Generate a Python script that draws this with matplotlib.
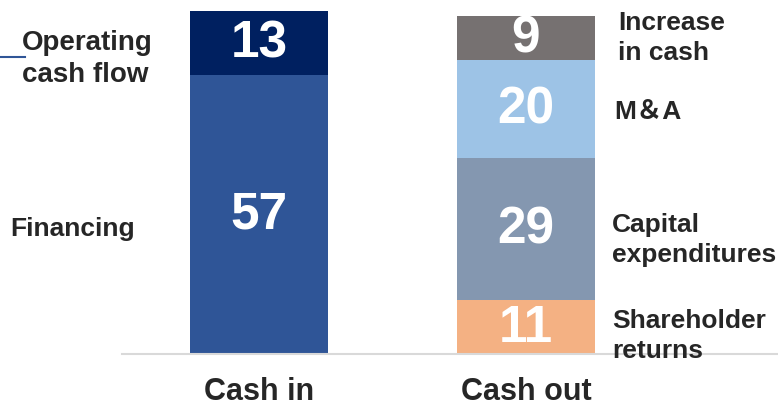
import matplotlib
matplotlib.use("Agg")
import matplotlib.pyplot as plt

categories = ['Cash in', 'Cash out']

# cash in (bottom -> top)
cash_in_labels = ['Financing', 'Operating\ncash flow']
cash_in_values = [57, 13]
cash_in_colors = ['#2F5597', '#002060']

# cash out (bottom -> top)
cash_out_labels = ['Shareholder\nreturns', 'Capital\nexpenditures', 'M＆A', 'Increase\nin cash']
cash_out_values = [11, 29, 20, 9]
cash_out_colors = ['#F4B183', '#8497B0', '#9DC3E6', '#767171']

txt_font = ['Liberation Sans', 'Noto Sans CJK JP', 'DejaVu Sans']
dark = '#262626'

W, H = 778, 406
fig = plt.figure(figsize=(W / 100, H / 100), dpi=100)
fig.patch.set_facecolor('white')

# axes: baseline at y=355px, top (70) at y=12px, x from 122px to right edge
ax = fig.add_axes([122 / W, (H - 355) / H, 1 - 122 / W, (355 - 12) / H])
ax.set_ylim(0, 70)
ax.set_xlim(-0.513, 1.944)
width = 0.517

for xi, vals, cols in [(0, cash_in_values, cash_in_colors), (1, cash_out_values, cash_out_colors)]:
    bottom = 0
    for v, c in zip(vals, cols):
        ax.bar(xi, v, width=width, bottom=bottom, color=c, edgecolor='none', zorder=2)
        ax.text(xi, bottom + v / 2, str(v), ha='center', va='center', color='white',
                fontsize=37, fontweight='bold', family='Liberation Sans', zorder=3)
        bottom += v

for s in ['top', 'right', 'left']:
    ax.spines[s].set_visible(False)
ax.spines['bottom'].set_color('#D9D9D9')
ax.spines['bottom'].set_linewidth(1.5)
ax.set_yticks([])
ax.set_xticks([0, 1])
ax.set_xticklabels(categories, fontsize=22, fontweight='bold', color=dark, family=txt_font)
ax.tick_params(axis='x', length=0, pad=16)

# side annotations (figure pixel positions)
def ftext(x, y, s, size=19):
    fig.text(x / W, 1 - y / H, s, ha='left', va='center', fontsize=size,
             fontweight='bold', color=dark, family=txt_font, linespacing=1.3)

ftext(22, 59, cash_in_labels[1], size=20)
ftext(10, 229, cash_in_labels[0])
ftext(618, 38, cash_out_labels[3])
ftext(614, 112, cash_out_labels[2])
ftext(612, 240, cash_out_labels[1])
ftext(612, 336, cash_out_labels[0])

# small connector line near "Operating"
fig.add_artist(plt.Line2D([0, 25 / W], [1 - 58 / H, 1 - 58 / H], color='#2F5597', lw=1.5))

fig.savefig('out.png', dpi=100)
